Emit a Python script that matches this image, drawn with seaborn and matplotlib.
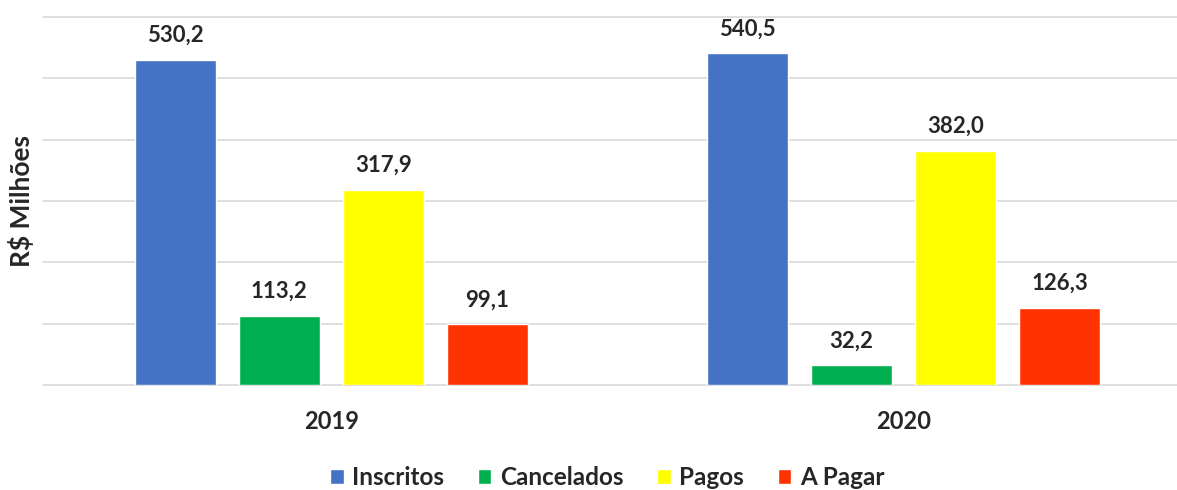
import matplotlib
matplotlib.use("Agg")
import matplotlib.pyplot as plt
import seaborn as sns
import pandas as pd

# Values in R$ millions
years = ["2019", "2020"]
series = ["Inscritos", "Cancelados", "Pagos", "A Pagar"]
inscritos = [530.2, 540.5]
cancelados = [113.2, 32.2]
pagos = [317.9, 382.0]
a_pagar = [99.1, 126.3]
colors = ["#4472C4", "#00B050", "#FFFF00", "#FF3300"]

sns.set_theme(style="white")
plt.rcParams["font.family"] = ["Lato", "DejaVu Sans"]
text_color = "#262626"

rows = []
for name, vals in zip(series, [inscritos, cancelados, pagos, a_pagar]):
    for year, v in zip(years, vals):
        rows.append({"Ano": year, "Tipo": name, "Valor": v})
df = pd.DataFrame(rows)

fig = plt.figure(figsize=(11.77, 4.90), dpi=100)
ax = fig.add_axes([43 / 1177, 1 - 385 / 490, 1 - 43 / 1177, 368 / 490])

sns.barplot(data=df, x="Ano", y="Valor", hue="Tipo", hue_order=series,
            order=years, palette=colors, width=0.727, gap=0.22,
            saturation=1, ax=ax, legend=True)

for cont in ax.containers:
    labels = [f"{v:.1f}".replace(".", ",") for v in cont.datavalues]
    ax.bar_label(cont, labels=labels, padding=10, fontsize=16,
                 fontweight="bold", color=text_color)

ax.set_ylim(0, 600)
ax.set_xlim(-0.504, 1.478)
ax.set_yticks(range(0, 601, 100))
ax.set_yticklabels([])
ax.tick_params(axis="y", length=0)
ax.tick_params(axis="x", length=0, pad=18, labelsize=17, labelcolor=text_color)
for t in ax.get_xticklabels():
    t.set_fontweight("bold")
ax.grid(axis="y", color="#D9D9D9", linewidth=1.2)
for gl in ax.get_ygridlines():
    gl.set_clip_on(False)
ax.set_axisbelow(True)
for side in ["top", "right", "left", "bottom"]:
    ax.spines[side].set_visible(False)

ax.set_xlabel("")
ax.set_ylabel("R$ Milhões", fontsize=19, fontweight="bold", color=text_color)
ax.yaxis.set_label_coords(-0.008, 0.5)

handles, lbls = ax.get_legend_handles_labels()
ax.get_legend().remove()
fig.legend(handles, lbls, loc="center", bbox_to_anchor=(0.516, 0.025),
           ncol=4, frameon=False, handlelength=0.55, handleheight=0.55,
           handletextpad=0.35, columnspacing=1.4,
           prop={"size": 17.5, "weight": "bold"}, labelcolor=text_color)

fig.savefig("out.png", dpi=100, facecolor="white")
